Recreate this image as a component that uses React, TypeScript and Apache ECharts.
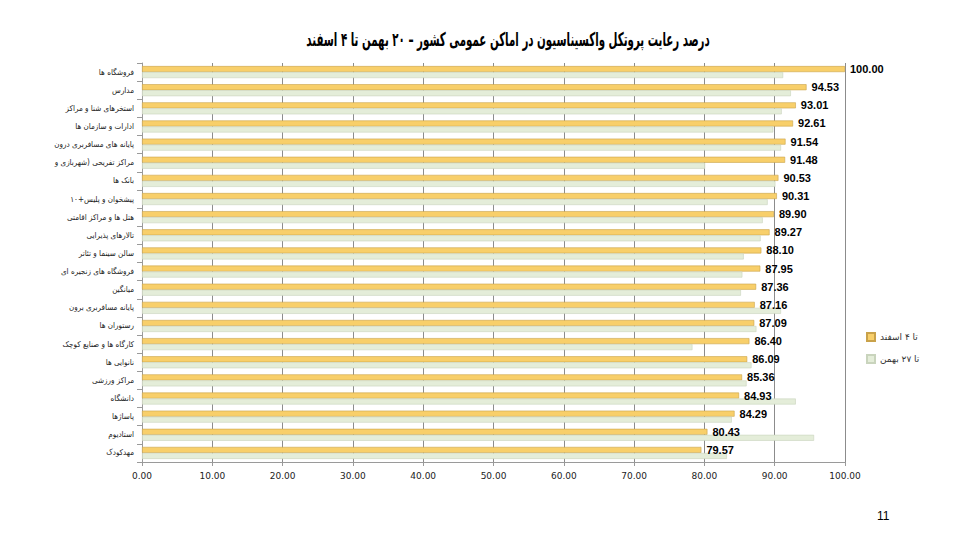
import React, { useEffect, useRef } from "react";
import * as echarts from "echarts";

const categories = [
  "فروشگاه ها",
  "مدارس",
  "استخرهای شنا و مراکز",
  "ادارات و سازمان ها",
  "پایانه های مسافربری درون",
  "مراکز تفریحی (شهربازی و",
  "بانک ها",
  "پیشخوان و پلیس+۱۰",
  "هتل ها و مراکز اقامتی",
  "تالارهای پذیرایی",
  "سالن سینما و تئاتر",
  "فروشگاه های زنجیره ای",
  "میانگین",
  "پایانه مسافربری برون",
  "رستوران ها",
  "کارگاه ها و صنایع کوچک",
  "نانوایی ها",
  "مراکز ورزشی",
  "دانشگاه",
  "پاساژها",
  "استادیوم",
  "مهدکودک",
];

const untilEsfand4 = [
  100.0, 94.53, 93.01, 92.61, 91.54, 91.48, 90.53, 90.31, 89.9, 89.27, 88.1,
  87.95, 87.36, 87.16, 87.09, 86.4, 86.09, 85.36, 84.93, 84.29, 80.43, 79.57,
];

const untilBahman27 = [
  91.2, 92.3, 91.0, 89.8, 90.9, 80.1, 90.1, 89.0, 88.3, 88.0, 85.6,
  85.4, 85.2, 90.9, 87.4, 78.3, 86.7, 86.0, 93.0, 83.9, 95.6, 83.2,
];

const seriesNames = ["تا ۴ اسفند", "تا ۲۷ بهمن"];
const titleText = "درصد رعایت پروتکل واکسیناسیون در اماکن عمومی کشور – ۲۰ بهمن تا ۴ اسفند";
const pageNumber = "11";

export default function App() {
  const ref = useRef<HTMLDivElement>(null);
  useEffect(() => {
    if (!ref.current) return;
    const chart = echarts.init(ref.current, null, { renderer: "svg" });
    chart.setOption({
      animation: false,
      backgroundColor: "#ffffff",
      legend: {
        orient: "vertical",
        left: 861,
        top: 327,
        itemWidth: 8,
        itemHeight: 8,
        itemGap: 12,
        icon: "rect",
        data: seriesNames,
        textStyle: { fontFamily: "DejaVu Sans", fontSize: 9, color: "#333" },
      },
      grid: { left: 142, right: 116, top: 63, bottom: 77, containLabel: false },
      xAxis: {
        type: "value",
        min: 0,
        max: 100,
        interval: 10,
        axisLine: { show: true, lineStyle: { color: "#9a9a9a" } },
        axisTick: { show: true, length: 4, lineStyle: { color: "#9a9a9a" } },
        axisLabel: {
          formatter: (v: number) => v.toFixed(2),
          fontFamily: "DejaVu Sans",
          fontSize: 9,
          color: "#222",
          margin: 9,
        },
        splitLine: { show: true, lineStyle: { color: "#8c8c8c", width: 1 } },
      },
      yAxis: {
        type: "category",
        data: categories,
        inverse: true,
        axisLine: { show: true, lineStyle: { color: "#9a9a9a" } },
        axisTick: { show: true, length: 5, lineStyle: { color: "#9a9a9a" } },
        axisLabel: {
          fontFamily: "DejaVu Sans Condensed, DejaVu Sans",
          fontSize: 8,
          color: "#222",
          margin: 8,
        },
      },
      series: [
        {
          name: seriesNames[0],
          type: "bar",
          data: untilEsfand4,
          barWidth: 6,
          barGap: "0%",
          itemStyle: {
            color: "#F8CF6A",
            borderColor: "#C9A24A",
            borderWidth: 0.6,
          },
          label: {
            show: true,
            position: "right",
            distance: 5,
            formatter: (p: any) => Number(p.value).toFixed(2),
            fontFamily: "Liberation Sans",
            fontWeight: "bold",
            fontSize: 11,
            color: "#000",
          },
        },
        {
          name: seriesNames[1],
          type: "bar",
          data: untilBahman27,
          barWidth: 6,
          barGap: "0%",
          itemStyle: {
            color: "#E4EDD9",
            borderColor: "#C9D4BD",
            borderWidth: 0.6,
          },
        },
      ],
      graphic: [
        {
          type: "text",
          x: 508,
          y: 40,
          scaleX: 0.54,
          style: {
            text: titleText,
            fontFamily: "DejaVu Sans",
            fontWeight: "bold",
            fontSize: 19,
            fill: "#000",
            textAlign: "center",
            textVerticalAlign: "middle",
          },
        },
        {
          type: "text",
          left: 877,
          top: 510,
          style: {
            text: pageNumber,
            fontFamily: "Liberation Sans",
            fontSize: 12,
            fill: "#000",
          },
        },
      ],
    });
    return () => chart.dispose();
  }, []);
  return (
    <div
      ref={ref}
      style={{ position: "absolute", left: 0, top: 0, width: 961, height: 539 }}
    />
  );
}
